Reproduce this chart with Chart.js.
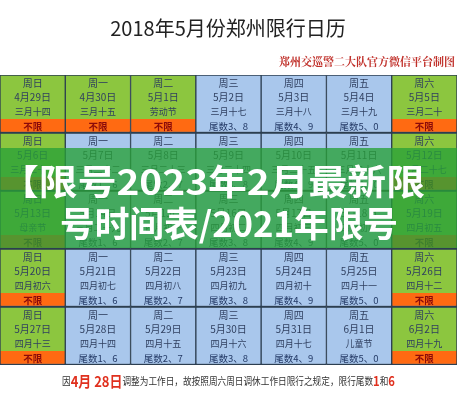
<!DOCTYPE html>
<html><head><meta charset="utf-8">
<script src="https://cdn.jsdelivr.net/npm/chart.js"></script>
<style>html,body{margin:0;padding:0;background:#fff}#w{width:457px;height:400px}</style>
</head><body><div id="w"><canvas id="c"></canvas></div>
<script>
const weekdays = ['周日','周一','周二','周三','周四','周五','周六'];
const dates = [
 ['4月29日','4月30日','5月1日','5月2日','5月3日','5月4日','5月5日'],
 ['5月6日','5月7日','5月8日','5月9日','5月10日','5月11日','5月12日'],
 ['5月13日','5月14日','5月15日','5月16日','5月17日','5月18日','5月19日'],
 ['5月20日','5月21日','5月22日','5月23日','5月24日','5月25日','5月26日'],
 ['5月27日','5月28日','5月29日','5月30日','5月31日','6月1日','6月2日']];
const lunar = [
 ['三月十四','三月十五','劳动节','三月十七','三月十八','三月十九','三月二十'],
 ['三月二十一','三月二十二','三月二十三','三月二十四','三月二十五','三月二十六','三月二十七'],
 ['母亲节','三月二十九','四月初一','四月初二','四月初三','四月初四','四月初五'],
 ['四月初六','四月初七','四月初八','四月初九','四月初十','四月十一','四月十二'],
 ['四月十三','四月十四','四月十五','四月十六','四月十七','儿童节','四月十九']];
const rules = [
 ['不限','不限','不限','尾数3、8','尾数4、9','尾数5、0','不限'],
 ['不限','尾数1、6','尾数2、7','尾数3、8','尾数4、9','尾数5、0','不限'],
 ['不限','尾数1、6','尾数2、7','尾数3、8','尾数4、9','尾数5、0','不限'],
 ['不限','尾数1、6','尾数2、7','尾数3、8','尾数4、9','尾数5、0','不限'],
 ['不限','尾数1、6','尾数2、7','尾数3、8','尾数4、9','尾数5、0','不限']];
const rowIndex = [0,1,2,3,4];
const GREEN='#8cc63f', BLUE='#a9c7ec', ORANGE='#ff6a12';
const datasets=[];
rowIndex.forEach(r=>{
  datasets.push({data:weekdays.map(()=>[r,r+0.76]),
    backgroundColor:rules[r].map(t=>t==='不限'?GREEN:BLUE),borderColor:'#2c3e50',borderWidth:{top:1,left:1,right:1,bottom:0},borderSkipped:false,grouped:false});
  datasets.push({data:weekdays.map(()=>[r+0.76,r+1]),
    backgroundColor:rules[r].map(t=>t==='不限'?ORANGE:BLUE),borderColor:'#2c3e50',borderWidth:{top:0,left:1,right:1,bottom:1.5},borderSkipped:false,grouped:false});
});
const F='"Noto Sans CJK SC","Noto Sans",sans-serif';
function fitText(c,txt,x0,x1,y){const w=c.measureText(txt).width;c.save();c.translate(x0,y);c.scale((x1-x0)/w,1);c.fillText(txt,0,0);c.restore();}
const textPlugin={id:'t',afterDraw(ch){
  const c=ch.ctx,x=ch.scales.x,y=ch.scales.y;
  c.save();c.textAlign='center';c.textBaseline='middle';
  rowIndex.forEach(r=>{weekdays.forEach((d,i)=>{
    const cx=x.getPixelForValue(i), h=y.getPixelForValue(r+1)-y.getPixelForValue(r), t=y.getPixelForValue(r);
    c.fillStyle='#2f3f5f';c.font='10px '+F;
    c.fillText(d,cx,t+h*0.15);c.fillText(dates[r][i],cx,t+h*0.39);
    c.font='9px '+F;c.fillText(lunar[r][i],cx,t+h*0.63);
    const ru=rules[r][i];
    if(ru==='不限'){c.fillStyle='#8a0a0a';c.font='bold 9.5px '+F;}else{c.fillStyle='#243a66';c.font='9.5px '+F;}
    c.fillText(ru,cx,t+h*0.885);
  });});
  c.fillStyle='#222';c.font='20px '+F;c.fillText('2018年5月份郑州限行日历',228,28);
  c.textAlign='right';c.fillStyle='#c0302a';c.font='bold 11px "Noto Serif CJK SC","Noto Sans CJK SC",serif';
  c.fillText('郑州交巡警二大队官方微信平台制图',455,62);
  // note
  c.textAlign='left';const ny=381;
  const segs=[['因','#333','10px'],['4月 28日','#e0301e','bold 15px'],['调整为工作日，故按照周六周日调休工作日限行之规定，限行尾数','#333','10px'],['1','#e0301e','bold 13px'],['和','#333','10px'],['6','#e0301e','bold 13px']];
  let tw=0;segs.forEach(s=>{c.font=s[2]+' '+F;tw+=c.measureText(s[0]).width;});
  c.save();c.translate(62,ny);c.scale(333/tw,1);let nx=0;
  segs.forEach(s=>{c.fillStyle=s[1];c.font=s[2]+' '+F;c.fillText(s[0],nx,0);nx+=c.measureText(s[0]).width;});
  c.restore();
  // overlay
  c.fillStyle='rgba(40,160,55,0.78)';c.fillRect(0,148,457,100);
  c.fillStyle='#fff';c.font='bold 35px '+F;c.textAlign='left';
  fitText(c,'【限号2023年2月最新限',0,425,182);
  fitText(c,'号时间表/2021年限号',60,398,224);
  c.restore();
}};
new Chart(document.getElementById('c'),{type:'bar',
 data:{labels:weekdays,datasets},
 options:{responsive:true,maintainAspectRatio:false,animation:false,
  layout:{padding:{top:75,bottom:35,left:0,right:0}},
  plugins:{legend:{display:false},tooltip:{enabled:false}},
  datasets:{bar:{categoryPercentage:1,barPercentage:1}},
  scales:{x:{display:false},y:{display:false,min:0,max:5,reverse:true}}},
 plugins:[textPlugin]});
</script></body></html>
